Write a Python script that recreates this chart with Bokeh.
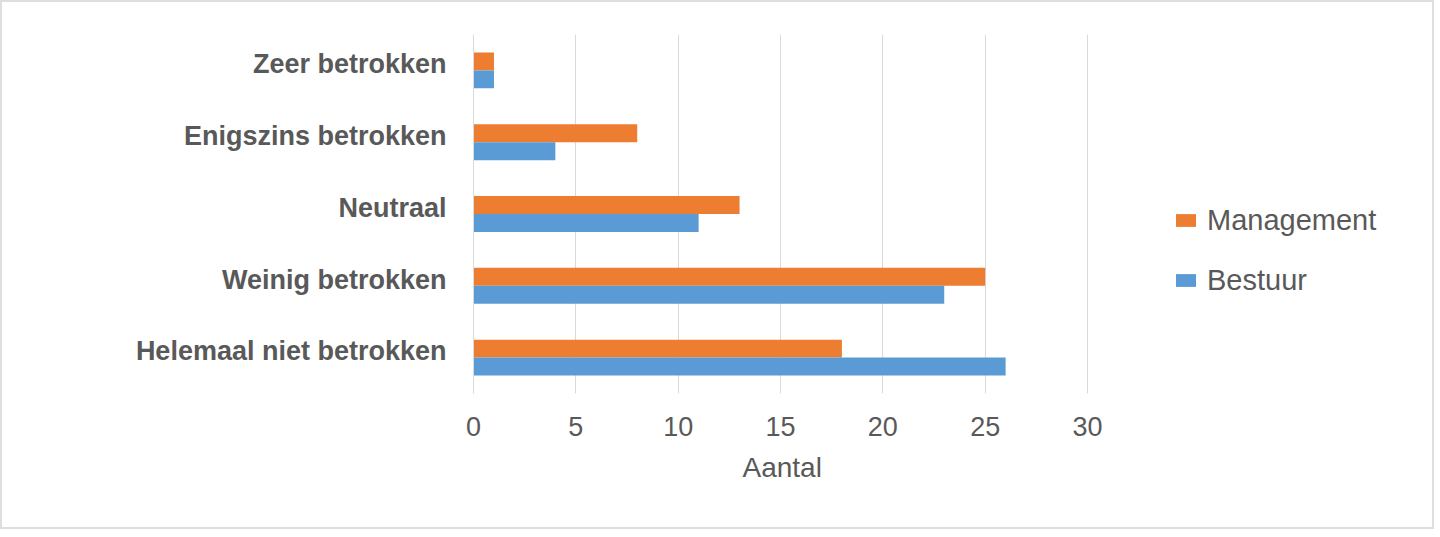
from bokeh.plotting import figure
from bokeh.models import (Range1d, Legend, LegendItem, ColumnDataSource, FixedTicker,
                          LinearAxis, Title)
from bokeh.transform import dodge
from bokeh.embed import file_html
from bokeh.resources import INLINE

# ---- data ----
categories = ["Helemaal niet betrokken", "Weinig betrokken", "Neutraal",
              "Enigszins betrokken", "Zeer betrokken"]
management = [18, 25, 13, 8, 1]
bestuur = [26, 23, 11, 4, 1]
x_ticks = [0, 5, 10, 15, 20, 25, 30]
x_max = 30
series_names = ["Management", "Bestuur"]
x_title = "Aantal"

# ---- style / layout ----
colors = ["#ED7D31", "#5B9BD5"]
text_gray = "#595959"
grid_gray = "#D9D9D9"
W, H = 1430, 525
frame_left, frame_right, frame_top, frame_bottom = 471, 1426, 32, 391   # canvas px
axis_right = 1085          # canvas px where x = x_max sits
label_lift = 0.085         # category labels sit slightly above bar pair centre
title_shift = 269          # px from frame left to the start of the x title

ys = list(range(len(categories)))
src = ColumnDataSource(dict(y=ys, management=management, bestuur=bestuur))

x_end = x_max * (frame_right - frame_left) / (axis_right - frame_left)
p = figure(width=W, height=H,
           y_range=Range1d(-0.5, len(categories) - 0.5),
           x_range=Range1d(0, x_end),
           y_axis_location=None,
           output_backend="svg", toolbar_location=None,
           min_border_left=frame_left, min_border_right=W - frame_right,
           min_border_top=frame_top, min_border_bottom=H - frame_bottom)
p.styles = {"margin": "2px 0 0 2px", "outline": "2px solid #DEDEDE"}
p.outline_line_color = None
p.background_fill_color = "white"
p.border_fill_color = "white"

r1 = p.hbar(y=dodge("y", 0.125), right="management", left=0,
            height=0.25, source=src, fill_color=colors[0], line_color=None)
r2 = p.hbar(y=dodge("y", -0.125), right="bestuur", left=0,
            height=0.25, source=src, fill_color=colors[1], line_color=None)

# grids
p.xgrid.grid_line_color = grid_gray
p.xgrid.grid_line_width = 1
p.ygrid.grid_line_color = None
p.xaxis.ticker = FixedTicker(ticks=x_ticks)

# x axis
xa = p.xaxis[0]
xa.axis_line_color = None
xa.major_tick_line_color = None
xa.minor_tick_line_color = None
xa.major_tick_out = 0
xa.major_tick_in = 0
xa.major_label_standoff = 23
xa.major_label_text_font = "Liberation Sans"
xa.major_label_text_font_size = "27px"
xa.major_label_text_color = text_gray

# x axis title, under the middle of the 0..30 span
p.add_layout(Title(text=x_title, align="left", offset=title_shift,
                   text_font="Liberation Sans", text_font_style="normal",
                   text_font_size="28px", text_color=text_gray, standoff=22),
             "below")

# y axis with category labels
p.extra_y_ranges = {"labels": Range1d(-0.5 - label_lift, len(categories) - 0.5 - label_lift)}
ya = LinearAxis(y_range_name="labels", ticker=FixedTicker(ticks=ys),
                major_label_overrides={i: c for i, c in zip(ys, categories)})
ya.axis_line_color = grid_gray
ya.axis_line_width = 1
ya.major_tick_line_color = None
ya.minor_tick_line_color = None
ya.major_tick_out = 0
ya.major_tick_in = 0
ya.major_label_standoff = 27
ya.major_label_text_font = "Liberation Sans"
ya.major_label_text_font_style = "bold"
ya.major_label_text_font_size = "27px"
ya.major_label_text_color = text_gray
p.add_layout(ya, "left")

legend = Legend(items=[LegendItem(label=series_names[0], renderers=[r1]),
                       LegendItem(label=series_names[1], renderers=[r2])],
                location=(700, 96), orientation="vertical",
                glyph_width=25, glyph_height=16, label_height=34,
                spacing=26, padding=0, margin=0, label_standoff=9,
                label_text_font="Liberation Sans", label_text_font_size="29px",
                label_text_color=text_gray,
                border_line_color=None, background_fill_alpha=0)
p.add_layout(legend)

open("out.html", "w").write(file_html(p, INLINE))
